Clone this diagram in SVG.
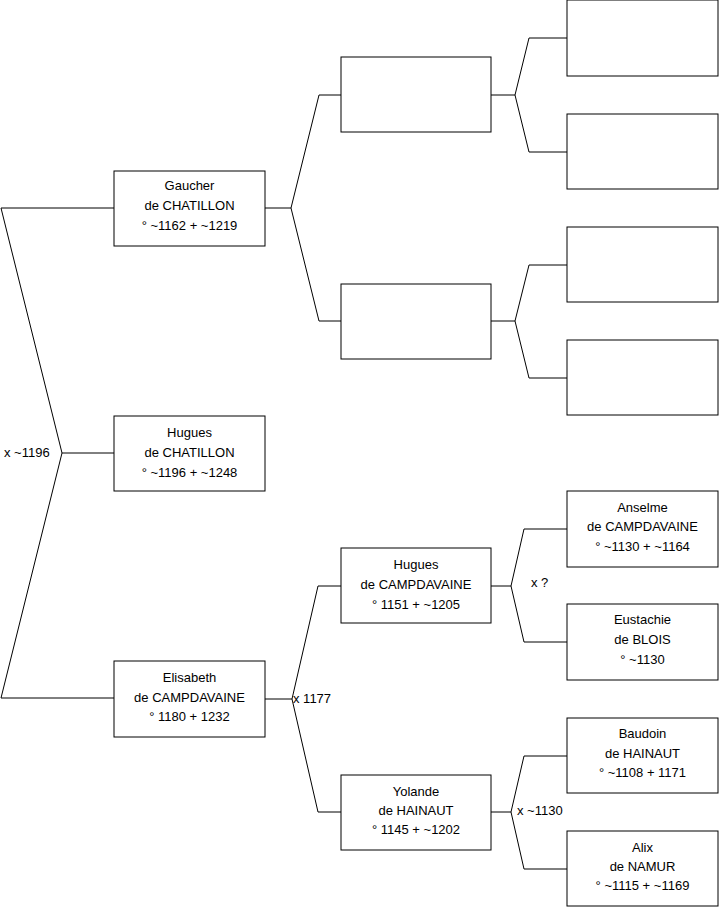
<svg xmlns="http://www.w3.org/2000/svg" width="719" height="908" viewBox="0 0 719 908">
<style>
.box{fill:#fff;stroke:#000;stroke-width:1}
.ln{fill:none;stroke:#000;stroke-width:1}
text{font-family:"Liberation Sans",Arial,sans-serif;font-size:13px;fill:#000}
.c{text-anchor:middle}
</style>
<rect width="719" height="908" fill="#fff"/>
<g id="connectors">
<polyline class="ln" points="114,208 1,208 62,453 1,698 114,698"/>
<polyline class="ln" points="62,453 114,453"/>
<polyline class="ln" points="265,208 291,208"/>
<polyline class="ln" points="341,95 319,95 291,208 319,321 341,321"/>
<polyline class="ln" points="265,699 292,699"/>
<polyline class="ln" points="341,586 318,586 292,699 318,812 341,812"/>
<polyline class="ln" points="491,95 515,95"/>
<polyline class="ln" points="567,38 529,38 515,95 529,152 567,152"/>
<polyline class="ln" points="491,321 515,321"/>
<polyline class="ln" points="567,265 529,265 515,321 529,378 567,378"/>
<polyline class="ln" points="491,586 511,586"/>
<polyline class="ln" points="567,529 524,529 511,586 524,642 567,642"/>
<polyline class="ln" points="491,812 511,812"/>
<polyline class="ln" points="567,756 524,756 511,812 524,869 567,869"/>
<text x="4" y="457">x ~1196</text>
<text x="293" y="703">x 1177</text>
<text x="531" y="587">x ?</text>
<text x="517" y="815">x ~1130</text>
</g>
<g id="gaucher"><rect class="box" x="114" y="171" width="151" height="75"/>
<text class="c" x="189.5" y="190">Gaucher</text><text class="c" x="189.5" y="210">de CHATILLON</text><text class="c" x="189.5" y="230">° ~1162 + ~1219</text></g>
<g id="hugues-chatillon"><rect class="box" x="114" y="416" width="151" height="75"/>
<text class="c" x="189.5" y="437">Hugues</text><text class="c" x="189.5" y="457">de CHATILLON</text><text class="c" x="189.5" y="477">° ~1196 + ~1248</text></g>
<g id="elisabeth"><rect class="box" x="114" y="661" width="151" height="76"/>
<text class="c" x="189.5" y="682">Elisabeth</text><text class="c" x="189.5" y="702">de CAMPDAVAINE</text><text class="c" x="189.5" y="721">° 1180 + 1232</text></g>
<g id="g2a"><rect class="box" x="341" y="57" width="150" height="75"/></g>
<g id="g2b"><rect class="box" x="341" y="284" width="150" height="75"/></g>
<g id="hugues-campdavaine"><rect class="box" x="341" y="548" width="150" height="75"/>
<text class="c" x="416" y="569">Hugues</text><text class="c" x="416" y="589">de CAMPDAVAINE</text><text class="c" x="416" y="609">° 1151 + ~1205</text></g>
<g id="yolande"><rect class="box" x="341" y="775" width="150" height="75"/>
<text class="c" x="416" y="796">Yolande</text><text class="c" x="416" y="815">de HAINAUT</text><text class="c" x="416" y="834">° 1145 + ~1202</text></g>
<g id="g3a"><rect class="box" x="567" y="0" width="151" height="76"/></g>
<g id="g3b"><rect class="box" x="567" y="114" width="151" height="75"/></g>
<g id="g3c"><rect class="box" x="567" y="227" width="151" height="75"/></g>
<g id="g3d"><rect class="box" x="567" y="340" width="151" height="75"/></g>
<g id="anselme"><rect class="box" x="567" y="491" width="151" height="76"/>
<text class="c" x="642.5" y="512">Anselme</text><text class="c" x="642.5" y="531">de CAMPDAVAINE</text><text class="c" x="642.5" y="551">° ~1130 + ~1164</text></g>
<g id="eustachie"><rect class="box" x="567" y="604" width="151" height="76"/>
<text class="c" x="642.5" y="624">Eustachie</text><text class="c" x="642.5" y="644">de BLOIS</text><text class="c" x="642.5" y="664">° ~1130</text></g>
<g id="baudoin"><rect class="box" x="567" y="718" width="151" height="75"/>
<text class="c" x="642.5" y="738">Baudoin</text><text class="c" x="642.5" y="758">de HAINAUT</text><text class="c" x="642.5" y="777">° ~1108 + 1171</text></g>
<g id="alix"><rect class="box" x="567" y="831" width="151" height="75"/>
<text class="c" x="642.5" y="852">Alix</text><text class="c" x="642.5" y="871">de NAMUR</text><text class="c" x="642.5" y="890">° ~1115 + ~1169</text></g>
</svg>
